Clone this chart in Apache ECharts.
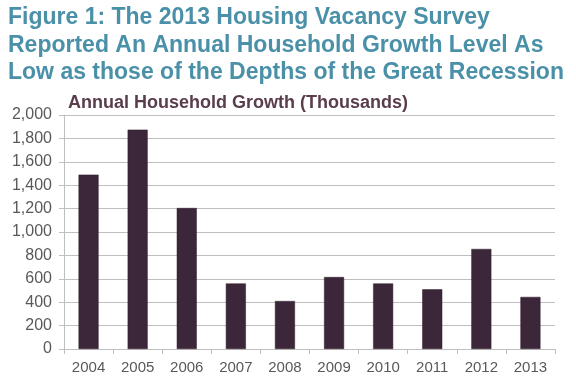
<!DOCTYPE html>
<html><head><meta charset="utf-8">
<script src="https://cdn.jsdelivr.net/npm/echarts@6/dist/echarts.min.js"></script>
<style>html,body{margin:0;padding:0;background:#fff}#c{width:576px;height:386px}</style>
</head><body><div id="c"></div>
<script>
const titleLines = ["Figure 1: The 2013 Housing Vacancy Survey","Reported An Annual Household Growth Level As","Low as those of the Depths of the Great Recession"];
const subtitle = "Annual Household Growth (Thousands)";
const years = ["2004","2005","2006","2007","2008","2009","2010","2011","2012","2013"];
const growth = [1490,1875,1205,560,410,615,560,510,855,445];
const chart = echarts.init(document.getElementById('c'));
chart.setOption({
  animation:false,
  title:[
    {text:titleLines.join('\n'),left:8,top:4,padding:0,textStyle:{fontFamily:'Liberation Sans, Arial',fontWeight:'bold',fontSize:23,lineHeight:27.5,color:'#4A90A8'}},
    {text:subtitle,left:68,top:94,padding:0,textStyle:{fontFamily:'Liberation Sans, Arial',fontWeight:'bold',fontSize:18,color:'#5A3D4C'}}
  ],
  grid:{left:64,right:21,top:115,bottom:37,containLabel:false},
  xAxis:{type:'category',data:years,
    axisLine:{lineStyle:{color:'#BFBFBF'}},
    axisTick:{show:true,alignWithLabel:false,length:5,lineStyle:{color:'#BFBFBF'}},
    axisLabel:{color:'#595959',fontFamily:'Liberation Sans, Arial',fontSize:15,margin:11}},
  yAxis:{type:'value',min:0,max:2000,interval:200,
    axisLine:{show:true,lineStyle:{color:'#BFBFBF'}},
    axisTick:{show:true,length:5,inside:false,lineStyle:{color:'#BFBFBF'}},
    splitLine:{lineStyle:{color:'#BFBFBF'}},
    axisLabel:{color:'#595959',fontFamily:'Liberation Sans, Arial',fontSize:16,margin:12,
      formatter:v=>v.toLocaleString('en-US')}},
  series:[{type:'bar',data:growth,barWidth:20,
    itemStyle:{color:'#3C2639',borderColor:'#2E1C2B',borderWidth:0.5}}]
});
</script></body></html>
